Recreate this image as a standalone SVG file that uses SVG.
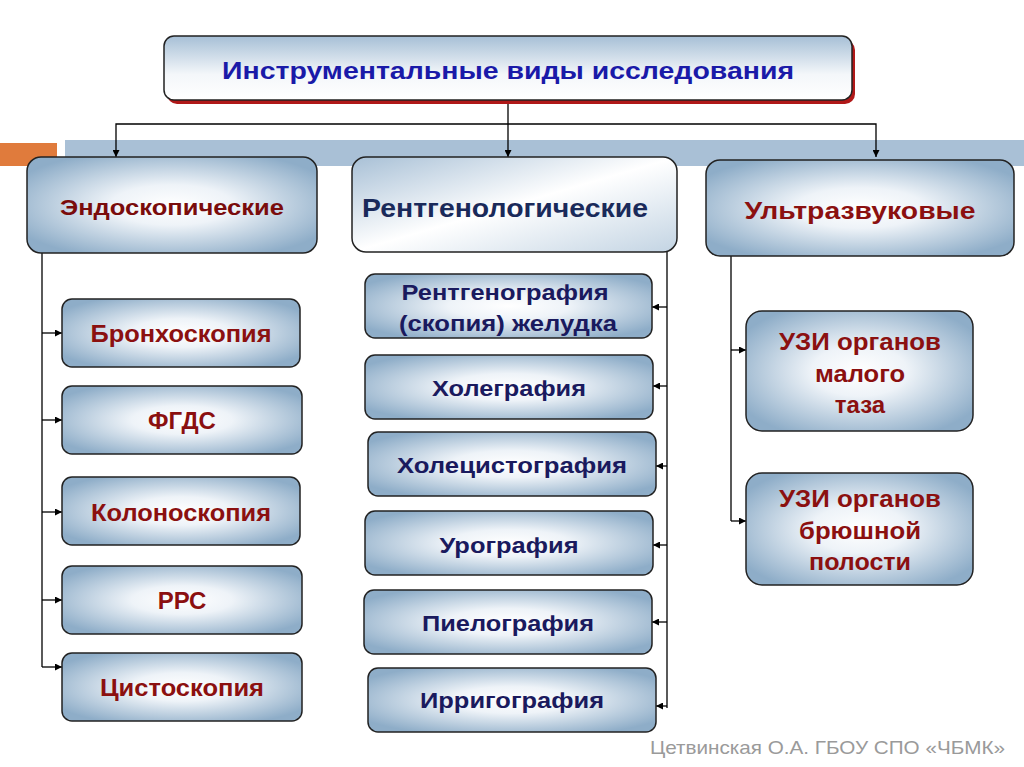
<svg xmlns="http://www.w3.org/2000/svg" width="1024" height="767" viewBox="0 0 1024 767">
<defs>
<radialGradient id="g" cx="0.5" cy="0.5" r="0.6">
<stop offset="0" stop-color="#ffffff"/><stop offset="0.35" stop-color="#eef3f8"/><stop offset="1" stop-color="#8eadc8"/>
</radialGradient>
<linearGradient id="gt" x1="0" y1="0" x2="0" y2="1">
<stop offset="0" stop-color="#a6bfd6"/><stop offset="0.6" stop-color="#f4f7fa"/><stop offset="1" stop-color="#ffffff"/>
</linearGradient>
<linearGradient id="gr" x1="0" y1="0" x2="1" y2="1">
<stop offset="0" stop-color="#a8c0d6"/><stop offset="0.5" stop-color="#ffffff"/><stop offset="1" stop-color="#c3d4e3"/>
</linearGradient>
<marker id="a" viewBox="0 0 10 10" refX="10" refY="5" markerWidth="7" markerHeight="7" orient="auto-start-reverse" markerUnits="userSpaceOnUse">
<path d="M0,0L10,5L0,10z" fill="#000"/></marker>
</defs>
<style>
.b{fill:url(#g);stroke:#222;stroke-width:1.5}
.t{font-family:"Liberation Sans",Arial,sans-serif;font-weight:bold;text-anchor:middle}
.n{fill:#1a1a5e;font-size:22px}
.r{fill:#8b1010;font-size:24px}
.c{fill:none;stroke:#000;stroke-width:1.3}
</style>
<rect width="1024" height="767" fill="#fff"/>
<rect x="0" y="143" width="57" height="23" fill="#e07b3c"/>
<rect x="65" y="140" width="959" height="26" fill="#a9c0d6"/>
<g id="connectors">
<path class="c" d="M508,100V157" marker-end="url(#a)"/>
<path class="c" d="M116,157V124H876V157" marker-start="url(#a)" marker-end="url(#a)"/>
<path class="c" d="M42,253V667"/>
<path class="c" d="M42,333H62" marker-end="url(#a)"/>
<path class="c" d="M42,420H62" marker-end="url(#a)"/>
<path class="c" d="M42,512H62" marker-end="url(#a)"/>
<path class="c" d="M42,600H62" marker-end="url(#a)"/>
<path class="c" d="M42,667H62" marker-end="url(#a)"/>
<path class="c" d="M667,252V708"/>
<path class="c" d="M667,307H652" marker-end="url(#a)"/>
<path class="c" d="M667,386H653" marker-end="url(#a)"/>
<path class="c" d="M667,466H656" marker-end="url(#a)"/>
<path class="c" d="M667,545H653" marker-end="url(#a)"/>
<path class="c" d="M667,622H652" marker-end="url(#a)"/>
<path class="c" d="M667,706H656" marker-end="url(#a)"/>
<path class="c" d="M731,256V521"/>
<path class="c" d="M731,350H746" marker-end="url(#a)"/>
<path class="c" d="M731,521H746" marker-end="url(#a)"/>
</g>
<g id="title">
<rect x="167" y="40" width="688" height="64" rx="10" fill="#b01818"/>
<rect x="164" y="36" width="688" height="64" rx="10" fill="url(#gt)" stroke="#222" stroke-width="1.5"/>
<text class="t" x="508" y="79" fill="#1a1aa8" font-size="24" textLength="572" lengthAdjust="spacingAndGlyphs">Инструментальные виды исследования</text>
</g>
<g id="endo"><rect class="b" x="27" y="157" width="290" height="96" rx="14"/><text class="t" x="172" y="215" fill="#7a0c0c" font-size="22" textLength="224" lengthAdjust="spacingAndGlyphs">Эндоскопические</text></g>
<g id="rentgen"><rect x="352" y="157" width="325" height="95" rx="14" fill="url(#gr)" stroke="#222" stroke-width="1.5"/><text x="362" y="217" fill="#1a2a5a" font-size="25" font-weight="bold" font-family="Liberation Sans,Arial,sans-serif" textLength="286" lengthAdjust="spacingAndGlyphs">Рентгенологические</text></g>
<g id="uzi"><rect class="b" x="706" y="160" width="308" height="96" rx="14"/><text class="t r" x="860" y="219" textLength="231" lengthAdjust="spacingAndGlyphs">Ультразвуковые</text></g>
<g id="l1"><rect class="b" x="62" y="299" width="238" height="68" rx="10"/><text class="t r" x="181" y="342" textLength="181" lengthAdjust="spacingAndGlyphs">Бронхоскопия</text></g>
<g id="l2"><rect class="b" x="62" y="386" width="240" height="68" rx="10"/><text class="t r" x="182" y="429">ФГДС</text></g>
<g id="l3"><rect class="b" x="62" y="477" width="238" height="68" rx="10"/><text class="t r" x="181" y="521" textLength="180" lengthAdjust="spacingAndGlyphs">Колоноскопия</text></g>
<g id="l4"><rect class="b" x="62" y="566" width="240" height="68" rx="10"/><text class="t r" x="182" y="609">РРС</text></g>
<g id="l5"><rect class="b" x="62" y="653" width="240" height="68" rx="10"/><text class="t r" x="182" y="696" textLength="164" lengthAdjust="spacingAndGlyphs">Цистоскопия</text></g>
<g id="m1"><rect class="b" x="365" y="274" width="287" height="64" rx="10"/><text class="t n" x="505" y="300" textLength="207" lengthAdjust="spacingAndGlyphs">Рентгенография</text><text class="t n" x="508" y="331" textLength="218" lengthAdjust="spacingAndGlyphs">(скопия) желудка</text></g>
<g id="m2"><rect class="b" x="365" y="355" width="288" height="64" rx="10"/><text class="t n" x="509" y="396" textLength="154" lengthAdjust="spacingAndGlyphs">Холеграфия</text></g>
<g id="m3"><rect class="b" x="368" y="432" width="288" height="64" rx="10"/><text class="t n" x="512" y="473" textLength="230" lengthAdjust="spacingAndGlyphs">Холецистография</text></g>
<g id="m4"><rect class="b" x="365" y="511" width="288" height="64" rx="10"/><text class="t n" x="509" y="553" textLength="139" lengthAdjust="spacingAndGlyphs">Урография</text></g>
<g id="m5"><rect class="b" x="364" y="590" width="288" height="64" rx="10"/><text class="t n" x="508" y="631" textLength="172" lengthAdjust="spacingAndGlyphs">Пиелография</text></g>
<g id="m6"><rect class="b" x="368" y="668" width="288" height="64" rx="10"/><text class="t n" x="512" y="708" textLength="184" lengthAdjust="spacingAndGlyphs">Ирригография</text></g>
<g id="r1"><rect class="b" x="746" y="311" width="227" height="120" rx="16"/><text class="t r" x="860" y="350" textLength="162" lengthAdjust="spacingAndGlyphs">УЗИ органов</text><text class="t r" x="860" y="382" textLength="90" lengthAdjust="spacingAndGlyphs">малого</text><text class="t r" x="860" y="413">таза</text></g>
<g id="r2"><rect class="b" x="746" y="473" width="227" height="112" rx="16"/><text class="t r" x="860" y="507" textLength="162" lengthAdjust="spacingAndGlyphs">УЗИ органов</text><text class="t r" x="860" y="539" textLength="122" lengthAdjust="spacingAndGlyphs">брюшной</text><text class="t r" x="860" y="570" textLength="102" lengthAdjust="spacingAndGlyphs">полости</text></g>
<text x="650" y="754" font-family="Liberation Sans,Arial,sans-serif" font-size="19" fill="#9a9a9a" textLength="355" lengthAdjust="spacingAndGlyphs">Цетвинская О.А.  ГБОУ СПО «ЧБМК»</text>
</svg>
